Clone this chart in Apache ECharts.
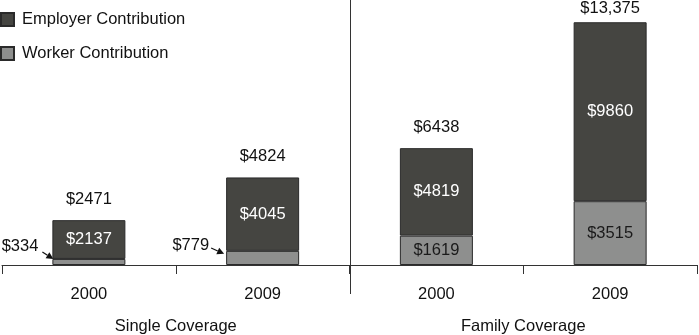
<!DOCTYPE html>
<html>
<head>
<meta charset="utf-8">
<script src="https://cdn.jsdelivr.net/npm/echarts@6/dist/echarts.min.js"></script>
<style>
html,body{margin:0;padding:0;background:#fff;}
#chart{width:699px;height:335px;}
</style>
</head>
<body>
<div id="chart"></div>
<script>
var years = ['2000', '2009', '2000', '2009'];
var groups = ['Single Coverage', 'Family Coverage'];
var workerValues = [334, 779, 1619, 3515];
var employerValues = [2137, 4045, 4819, 9860];
var totalValues = [2471, 4824, 6438, 13375];
var totalLabels = ['$2471', '$4824', '$6438', '$13,375'];
var seriesNames = ['Employer Contribution', 'Worker Contribution'];

var FONT = '"Liberation Sans", Arial, Helvetica, sans-serif';
var FS = 16.5;
var EMP = '#454541';
var WRK = '#8e8f8e';
var EDGE = '#2a2a2a';
var TXT = '#111';
var BARW = 73;

var chart = echarts.init(document.getElementById('chart'));

var workerData = workerValues.map(function (v, i) {
  if (i === 0) {
    return { value: v, label: { show: true, position: 'left', distance: 14, offset: [0, -16], color: TXT } };
  }
  if (i === 1) {
    return { value: v, label: { show: true, position: 'left', distance: 17, offset: [0, -12], color: TXT } };
  }
  return { value: v, label: { show: true, position: 'inside', color: '#1a1a1a' } };
});

var totalData = totalValues.map(function (v, i) {
  return { value: v, label: { distance: i === 3 ? 5 : 12 } };
});

chart.setOption({
  animation: false,
  textStyle: { fontFamily: FONT },
  legend: {
    data: seriesNames,
    orient: 'vertical',
    left: 0,
    top: 11,
    padding: 0,
    icon: 'rect',
    itemWidth: 13,
    itemHeight: 13,
    itemGap: 17,
    textStyle: { fontFamily: FONT, fontSize: FS, color: TXT, padding: [0, 0, 0, 3], lineHeight: 16 }
  },
  grid: { left: 2, right: 2, top: 0, bottom: 69, containLabel: false },
  xAxis: [{
    type: 'category',
    data: years,
    position: 'bottom',
    axisLine: { lineStyle: { color: '#333', width: 1 } },
    axisTick: { show: true, length: 9, interval: 0, lineStyle: { color: '#333' } },
    axisLabel: { fontFamily: FONT, fontSize: FS, color: TXT, margin: 21, interval: 0 }
  }, {
    type: 'category',
    data: groups,
    position: 'bottom',
    gridIndex: 0,
    axisLine: { show: false },
    axisTick: { show: false },
    axisLabel: { fontFamily: FONT, fontSize: FS, color: TXT, margin: 53, interval: 0 }
  }],
  yAxis: { type: 'value', min: 0, max: 14600, show: false, splitLine: { show: false } },
  series: [{
    name: 'Worker Contribution',
    type: 'bar',
    stack: 'total',
    barWidth: BARW,
    xAxisIndex: 0,
    itemStyle: { color: WRK, borderColor: EDGE, borderWidth: 1 },
    label: { show: true, fontFamily: FONT, fontSize: FS, formatter: function (p) { return '$' + p.value; } },
    data: workerData
  }, {
    name: 'Employer Contribution',
    type: 'bar',
    stack: 'total',
    barWidth: BARW,
    xAxisIndex: 0,
    itemStyle: { color: EMP, borderColor: EDGE, borderWidth: 1 },
    label: { show: true, position: 'inside', color: '#fff', fontFamily: FONT, fontSize: FS, formatter: function (p) { return '$' + p.value; } },
    data: employerValues
  }, {
    name: 'totals',
    type: 'scatter',
    xAxisIndex: 0,
    symbolSize: 0,
    silent: true,
    itemStyle: { opacity: 1, color: TXT },
    label: { show: true, position: 'top', color: TXT, opacity: 1, fontFamily: FONT, fontSize: FS, formatter: function (p) { return totalLabels[p.dataIndex]; } },
    data: totalData
  }]
});

function px(i, v) {
  return chart.convertToPixel({ xAxisIndex: 0, yAxisIndex: 0 }, [i, v]);
}

var graphics = [];
// divider between the two coverage groups
var a = px(1, 0), b = px(2, 0);
var divX = Math.round((a[0] + b[0]) / 2) + 0.5;
graphics.push({
  type: 'line',
  shape: { x1: divX, y1: 0, x2: divX, y2: a[1] + 29 },
  style: { stroke: '#333', lineWidth: 1 }
});

// arrows from the small labels to the worker segments
[0, 1].forEach(function (i, k) {
  var base = px(i, 0);
  var top = px(i, workerValues[i]);
  var barLeft = base[0] - BARW / 2;
  var labelY = (base[1] + top[1]) / 2 + (k === 0 ? -16 : -12);
  var sx = barLeft - (k === 0 ? 10 : 15), sy = labelY + (k === 0 ? 6 : 2);
  var ex = barLeft + (k === 0 ? 1 : -2), ey = top[1] + (k === 0 ? 0 : 3);
  var dx = ex - sx, dy = ey - sy, len = Math.sqrt(dx * dx + dy * dy);
  var ux = dx / len, uy = dy / len;
  var hl = 7, hw = 3.5;
  var bx = ex - ux * hl, by = ey - uy * hl;
  graphics.push({
    type: 'line',
    shape: { x1: sx, y1: sy, x2: bx, y2: by },
    style: { stroke: TXT, lineWidth: 1.2 }
  });
  graphics.push({
    type: 'polygon',
    shape: { points: [[ex, ey], [bx - uy * hw, by + ux * hw], [bx + uy * hw, by - ux * hw]] },
    style: { fill: TXT }
  });
});

chart.setOption({ graphic: graphics });
</script>
</body>
</html>
